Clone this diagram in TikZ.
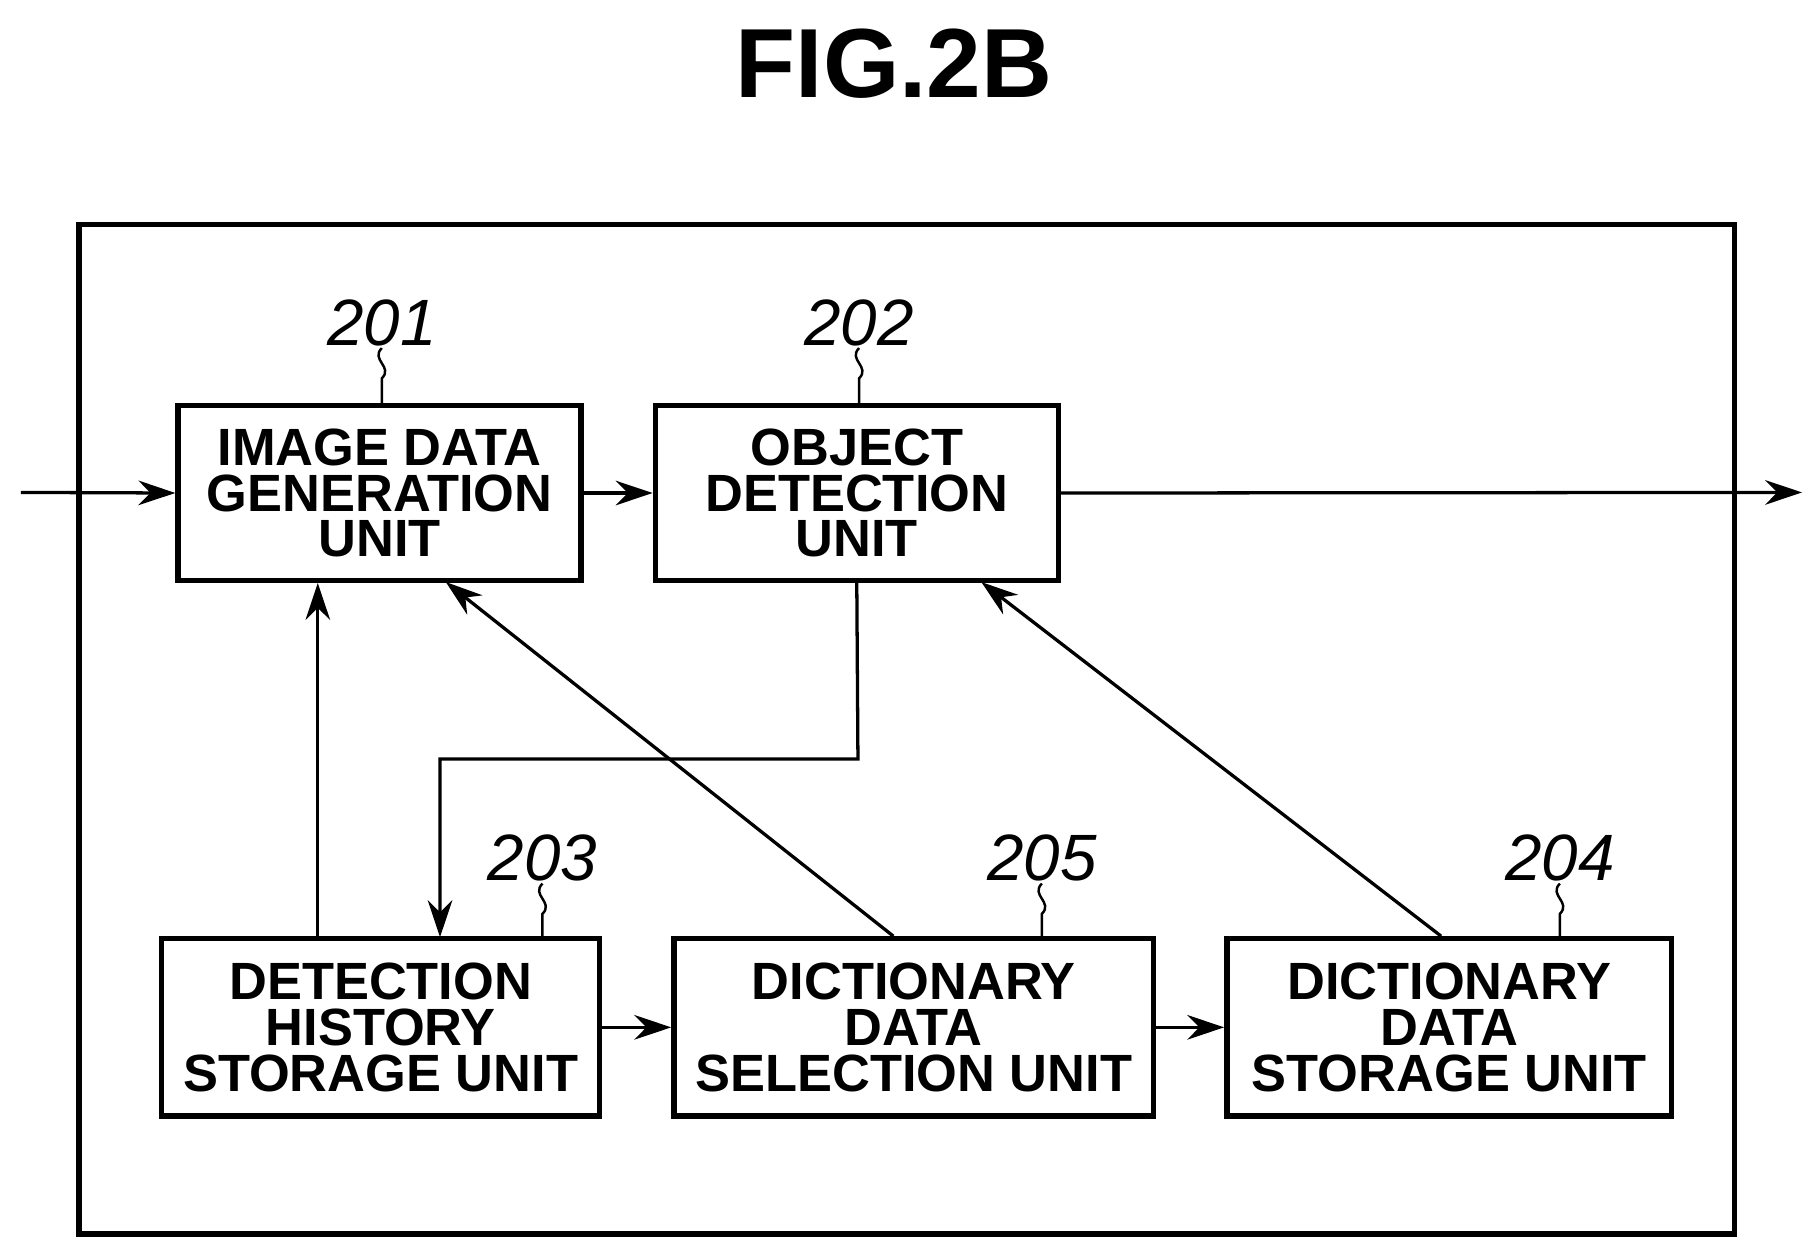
\documentclass[tikz,border=0pt]{standalone}
\usepackage{fontspec}
\setmainfont{Liberation Sans}
\usetikzlibrary{arrows.meta}
\begin{document}
\begin{tikzpicture}[x=0.01cm,y=-0.01cm,
  box/.style={draw,line width=1.3pt,inner sep=0pt,align=center,
    font=\fontsize{12.8}{11.2}\selectfont\bfseries},
  arr/.style={line width=0.8pt,-{Stealth[length=9pt,width=6pt]}},
  lab/.style={font=\fontsize{16}{16}\selectfont\itshape},
  lead/.style={line width=0.6pt}]
\useasboundingbox (0,0) rectangle (1560,1075);
\node[font=\fontsize{24}{24}\selectfont\bfseries] (title) at (768,55) {FIG.2B};
\draw[line width=1.3pt] (68,193) rectangle (1490,1060);
\node[box,minimum width=3.46cm,minimum height=1.5cm] (b201) at (326,423.5) {IMAGE DATA\\GENERATION\\UNIT};
\node[box,minimum width=3.46cm,minimum height=1.5cm] (b202) at (736,423.5) {OBJECT\\DETECTION\\UNIT};
\node[box,minimum width=3.76cm,minimum height=1.52cm] (b203) at (327,882.5) {DETECTION\\HISTORY\\STORAGE UNIT};
\node[box,minimum width=4.12cm,minimum height=1.52cm] (b205) at (785,882.5) {DICTIONARY\\DATA\\SELECTION UNIT};
\node[box,minimum width=3.82cm,minimum height=1.52cm] (b204) at (1245,882.5) {DICTIONARY\\DATA\\STORAGE UNIT};
\coordinate (in) at (18,423);
\coordinate (out) at (1548,423);
\coordinate (c1) at (273,805);
\coordinate (c2) at (378,805);
\draw[arr] (in) -- (b201.west);
\draw[arr] (b202.east) -- (out);
\draw[arr] (b201.east) -- (b202.west);
\draw[arr] (b203.east) -- (b205.west);
\draw[arr] (b205.east) -- (b204.west);
\draw[arr] (c1) -- (c1 |- b201.south);
\draw[arr] (b202.south) -- (737,652) -| (c2);
\coordinate (t201) at (383,500);
\coordinate (t202) at (843,500);
\draw[arr] ([xshift=-5pt]b205.north) -- (t201);
\draw[arr] ([xshift=-2pt]b204.north) -- (t202);
\foreach \n/\x/\y in {201/328/277,202/738/277,203/466/737,205/895/737,204/1340/737}{
  \node[lab] (l\n) at (\x,\y) {\n};
  \draw[lead] (\x,\y+22) .. controls (\x-10,\y+32) and (\x+10,\y+38) .. (\x,\y+48) -- (\x,\y+70);
}
\end{tikzpicture}
\end{document}
